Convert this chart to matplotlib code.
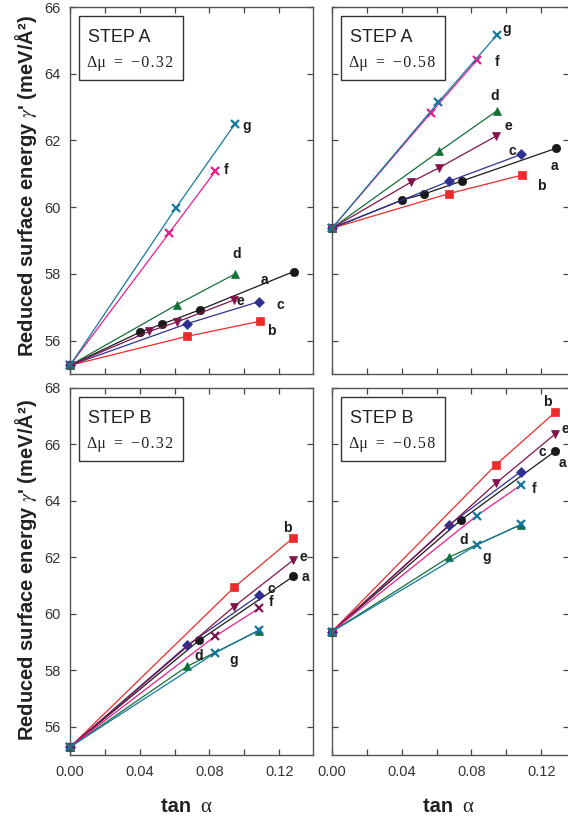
import matplotlib
matplotlib.use("Agg")
import matplotlib.pyplot as plt
from matplotlib.patches import Rectangle

plt.rcParams['font.family'] = ['Liberation Sans', 'DejaVu Sans']
plt.rcParams['mathtext.fontset'] = 'stix'

series = ['a', 'b', 'c', 'd', 'e', 'f', 'g']

# tan(alpha) values, step A (both chemical potentials)
tan_A = {
    'a': [0.0, 0.0404, 0.0525, 0.0743, 0.1283],
    'b': [0.0, 0.0673, 0.1089],
    'c': [0.0, 0.0673, 0.1085],
    'd': [0.0, 0.0614, 0.0944],
    'e': [0.0, 0.0456, 0.0614, 0.0941],
    'f': [0.0, 0.0568, 0.0834],
    'g': [0.0, 0.0609, 0.0946],
}
# tan(alpha) values, step B
tan_B = {
    'a': [0.0, 0.0741, 0.1282],
    'b': [0.0, 0.0942, 0.1282],
    'c': [0.0, 0.0672, 0.1083],
    'd': [0.0, 0.0672, 0.1085],
    'e': [0.0, 0.0941, 0.1282],
    'f': [0.0, 0.0831, 0.1085],
    'g': [0.0, 0.0831, 0.1085],
}

gamma_A032 = {
    'a': [55.26, 56.26, 56.49, 56.92, 58.07],
    'b': [55.26, 56.13, 56.58],
    'c': [55.26, 56.51, 57.17],
    'd': [55.26, 57.08, 57.99],
    'e': [55.26, 56.28, 56.56, 57.22],
    'f': [55.26, 59.22, 61.08],
    'g': [55.26, 59.99, 62.49],
}
gamma_A058 = {
    'a': [59.37, 60.22, 60.39, 60.78, 61.76],
    'b': [59.37, 60.41, 60.96],
    'c': [59.37, 60.78, 61.58],
    'd': [59.37, 61.67, 62.88],
    'e': [59.37, 60.76, 61.18, 62.13],
    'f': [59.37, 62.83, 64.42],
    'g': [59.37, 63.14, 65.16],
}
gamma_B032 = {
    'a': [55.28, 59.06, 61.33],
    'b': [55.28, 60.94, 62.70],
    'c': [55.28, 58.88, 60.65],
    'd': [55.28, 58.14, 59.41],
    'e': [55.28, 60.26, 61.91],
    'f': [55.28, 59.20, 60.20],
    'g': [55.28, 58.61, 59.43],
}
gamma_B058 = {
    'a': [59.37, 63.33, 65.77],
    'b': [59.37, 65.29, 67.15],
    'c': [59.37, 63.15, 65.04],
    'd': [59.37, 62.01, 63.16],
    'e': [59.37, 64.63, 66.38],
    'f': [59.37, 63.48, 64.57],
    'g': [59.37, 62.44, 63.17],
}

# curve label positions (data coords)
lab_A032 = {'a': (0.1113, 57.82), 'b': (0.1153, 56.30), 'c': (0.1205, 57.07),
            'd': (0.0958, 58.60), 'e': (0.0978, 57.19), 'f': (0.0895, 61.10),
            'g': (0.1016, 62.42)}
lab_A058 = {'a': (0.1274, 61.22), 'b': (0.1199, 60.63), 'c': (0.1033, 61.67),
            'd': (0.0935, 63.34), 'e': (0.1010, 62.42), 'f': (0.0947, 64.36),
            'g': (0.1004, 65.34)}
lab_B032 = {'a': (0.1348, 61.31), 'b': (0.1245, 63.04), 'c': (0.1153, 60.88),
            'd': (0.0740, 58.51), 'e': (0.1337, 62.02), 'f': (0.1153, 60.42),
            'g': (0.0941, 58.37)}
lab_B058 = {'a': (0.1320, 65.35), 'b': (0.1233, 67.50), 'c': (0.1205, 65.73),
            'd': (0.0757, 62.62), 'e': (0.1337, 66.55), 'f': (0.1159, 64.42),
            'g': (0.0889, 62.02)}

colors = {'a': '#1a1a1a', 'b': '#ee2a2a', 'c': '#2e3192', 'd': '#137038',
          'e': '#82144a', 'f': '#ec1c8c', 'g': '#14789e'}
markers = {'a': 'o', 'b': 's', 'c': 'D', 'd': '^', 'e': 'v', 'f': 'x', 'g': 'x'}
msize = {'a': 6, 'b': 5.5, 'c': 5, 'd': 5.5, 'e': 5.5, 'f': 5.5, 'g': 5.5}

W, H = 568, 819
fig = plt.figure(figsize=(W / 100, H / 100), dpi=100)

def px_axes(x0, x1, y0, y1):
    return fig.add_axes([x0 / W, 1 - y1 / H, (x1 - x0) / W, (y1 - y0) / H])

px_per_unit = 1743.0
hair = '\u200a'

panels = [
    (70, 313, 7, 374, tan_A, gamma_A032, lab_A032, 'STEP A', '−0.32', (55, 66), False, True, {}),
    (332, 569, 7, 374, tan_A, gamma_A058, lab_A058, 'STEP A', '−0.58', (55, 66), False, False, {}),
    (70, 313, 388, 755, tan_B, gamma_B032, lab_B032, 'STEP B', '−0.32', (55, 68), True, True, {'f': '#7a1a52'}),
    (332, 569, 388, 755, tan_B, gamma_B058, lab_B058, 'STEP B', '−0.58', (55, 68), True, False, {'f': '#14789e'}),
]

for (x0, x1, y0, y1, tx, gy, labs, step, dmu, ylim, showx, showy, mcol) in panels:
    ax = px_axes(x0, x1, y0, y1)
    for s in series:
        ax.plot(tx[s], gy[s], '-', color=colors[s], lw=0.9,
                marker=markers[s], ms=msize[s], mew=1.6 if markers[s] == 'x' else 0.5,
                mfc=mcol.get(s, colors[s]), mec=mcol.get(s, colors[s]), clip_on=False)
        lx, ly = labs[s]
        ax.text(lx, ly, s, fontsize=10, fontweight='bold', color='#1a1a1a',
                ha='center', va='center')
    ax.set_xlim(0, (x1 - x0) / px_per_unit)
    ax.set_ylim(*ylim)
    ax.set_xticks([0.0, 0.04, 0.08, 0.12])
    ax.set_xticks([0.02, 0.06, 0.10], minor=True)
    ax.set_yticks(range(56, ylim[1] + 1, 2))
    ax.tick_params(which='both', direction='in', top=True, right=True,
                   length=4.5, width=0.9, color='#444444', labelsize=10.5,
                   labelcolor='#333333', pad=7)
    if not showx:
        ax.tick_params(labelbottom=False)
    else:
        ax.set_xticklabels(['0.00', '0.04', '0.08', '0.12'])
    if not showy:
        ax.tick_params(labelleft=False)
    for sp in ax.spines.values():
        sp.set_color('#555555')
        sp.set_linewidth(1.0)

    aw, ah = x1 - x0, y1 - y0
    bx, by, bw, bh = 9, 9, 104, 64
    ax.add_patch(Rectangle((bx / aw, 1 - (by + bh) / ah), bw / aw, bh / ah,
                           transform=ax.transAxes, fill=True, fc='white',
                           ec='#333333', lw=1.0, zorder=5))
    ax.text((bx + 9) / aw, 1 - (by + 22) / ah, step, transform=ax.transAxes,
            fontsize=13, color='#222222', ha='left', va='center', zorder=6)
    dmu_txt = 'Δμ  =  ' + hair.join(dmu)
    ax.text((bx + 8) / aw, 1 - (by + 47) / ah, dmu_txt, transform=ax.transAxes,
            fontsize=11.5, family=['Liberation Serif', 'DejaVu Serif'], color='#222222',
            ha='left', va='center', zorder=6)

ylab = r"Reduced surface energy $\gamma$' (meV/Å²)"
for yc in (186, 570):
    fig.text(26 / W, 1 - yc / H, ylab, rotation=90, fontsize=14.5, fontweight='bold',
             ha='center', va='center', color='#222222')
for xc in (197, 459):
    fig.text(xc / W, 1 - 806 / H, 'tan ', fontsize=14.5, fontweight='bold',
             ha='right', va='center', color='#222222')
    fig.text((xc + 3) / W, 1 - 808 / H, 'α', fontsize=15,
             family=['Liberation Serif', 'DejaVu Serif'],
             ha='left', va='center', color='#222222')

fig.savefig('out.png', dpi=100)
